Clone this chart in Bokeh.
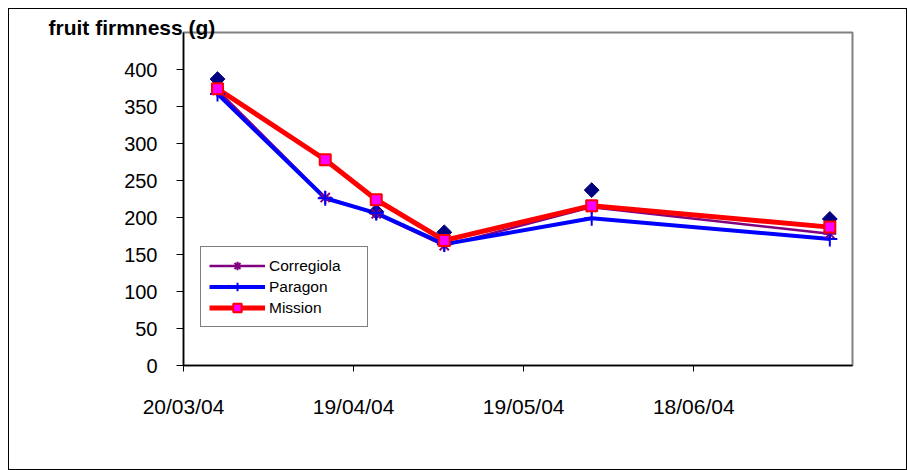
from datetime import datetime, timedelta
import numpy as np
from bokeh.plotting import figure
from bokeh.models import (Range1d, FixedTicker, DatetimeTickFormatter, Legend,
                          LegendItem, ColumnDataSource)
from bokeh.embed import file_html
from bokeh.resources import INLINE

# ---- data ----
dates = ["26/03/04", "14/04/04", "23/04/04", "05/05/04", "31/05/04", "12/07/04"]
unlabelled = [387, np.nan, 208, 180, 237, 198]      # navy diamonds (no legend entry)
corregiola = [372, 227, 205, 162, 214, 178]
paragon = [367, 226, 206, 164, 199, 171]
mission = [374, 278, 224, 169, 216, 187]
x_tick_labels = ["20/03/04", "19/04/04", "19/05/04", "18/06/04"]
y_ticks = [0, 50, 100, 150, 200, 250, 300, 350, 400]
y_title = "fruit firmness (g)"

def parse(d):
    return datetime.strptime(d, "%d/%m/%y")

xs = [parse(d) for d in dates]
src = ColumnDataSource(dict(x=xs, u=unlabelled, c=corregiola, p=paragon, m=mission))

x_start = parse(x_tick_labels[0])
x_end = x_start + timedelta(days=118)

FONT = "Liberation Sans"

p = figure(x_axis_type="datetime", output_backend="svg", toolbar_location=None,
           frame_width=669, frame_height=333,
           min_border_left=174, min_border_right=54, min_border_top=23, min_border_bottom=104,
           x_range=Range1d(x_start, x_end), y_range=Range1d(0, 450))
p.styles = {"border": "1px solid black", "margin-left": "8px", "margin-top": "8px"}
p.background_fill_color = "white"
p.border_fill_color = "white"
p.outline_line_color = "#808080"
p.outline_line_width = 2
p.xgrid.visible = False
p.ygrid.visible = False

# title (horizontal, at the top left, like the original y-axis caption)
p.title.text = y_title
p.title.align = "left"
p.title.offset = -135
p.title.standoff = -12
p.title.text_font = FONT
p.title.text_font_size = "21px"
p.title.text_font_style = "bold"
p.title.text_color = "black"

# axes
tick_ms = [parse(t).timestamp() * 1000 for t in x_tick_labels]
p.xaxis.ticker = FixedTicker(ticks=tick_ms)
p.xaxis.formatter = DatetimeTickFormatter(days="%d/%m/%y", months="%d/%m/%y", years="%d/%m/%y")
p.yaxis.ticker = FixedTicker(ticks=y_ticks)
for ax in (p.xaxis[0], p.yaxis[0]):
    ax.axis_line_color = "black"
    ax.axis_line_width = 1.5
    ax.major_tick_line_color = "black"
    ax.major_tick_in = 0
    ax.minor_tick_line_color = None
    ax.major_label_text_font = FONT
    ax.major_label_text_color = "black"
p.yaxis.major_tick_out = 7
p.yaxis.major_label_standoff = 19
p.yaxis.major_label_text_font_size = "20px"
p.xaxis.major_tick_out = 6
p.xaxis.major_label_standoff = 23
p.xaxis.major_label_text_font_size = "21px"

# lines first
lc = p.line("x", "c", source=src, line_color="#800080", line_width=2.5, line_join="round")
lp = p.line("x", "p", source=src, line_color="#0000FF", line_width=4, line_join="round")
lm = p.line("x", "m", source=src, line_color="#FF0000", line_width=5, line_join="round")

# markers
p.scatter("x", "u", source=src, marker="square", angle=np.pi / 4, size=10.5,
          fill_color="#000080", line_color="#000080")
mc = p.scatter("x", "c", source=src, marker="asterisk", size=13, line_color="#800080",
               line_width=2)
mp = p.scatter("x", "p", source=src, marker="cross", size=15, line_color="#0000FF",
               line_width=2)
mm = p.scatter("x", "m", source=src, marker="square", size=11, fill_color="#FF00FF",
               line_color="#FF0000", line_width=2)

legend = Legend(items=[LegendItem(label="Corregiola", renderers=[lc, mc]),
                       LegendItem(label="Paragon", renderers=[lp, mp]),
                       LegendItem(label="Mission", renderers=[lm, mm])],
                location=(17, 38), padding=8, spacing=0, margin=0,
                glyph_width=56, glyph_height=21, label_height=21, label_width=90,
                label_standoff=4, border_line_color="black", border_line_width=1,
                background_fill_color="white", background_fill_alpha=1,
                label_text_font=FONT, label_text_font_size="15.5px",
                label_text_color="black")
p.add_layout(legend, "center")

open("out.html", "w").write(file_html(p, INLINE))
